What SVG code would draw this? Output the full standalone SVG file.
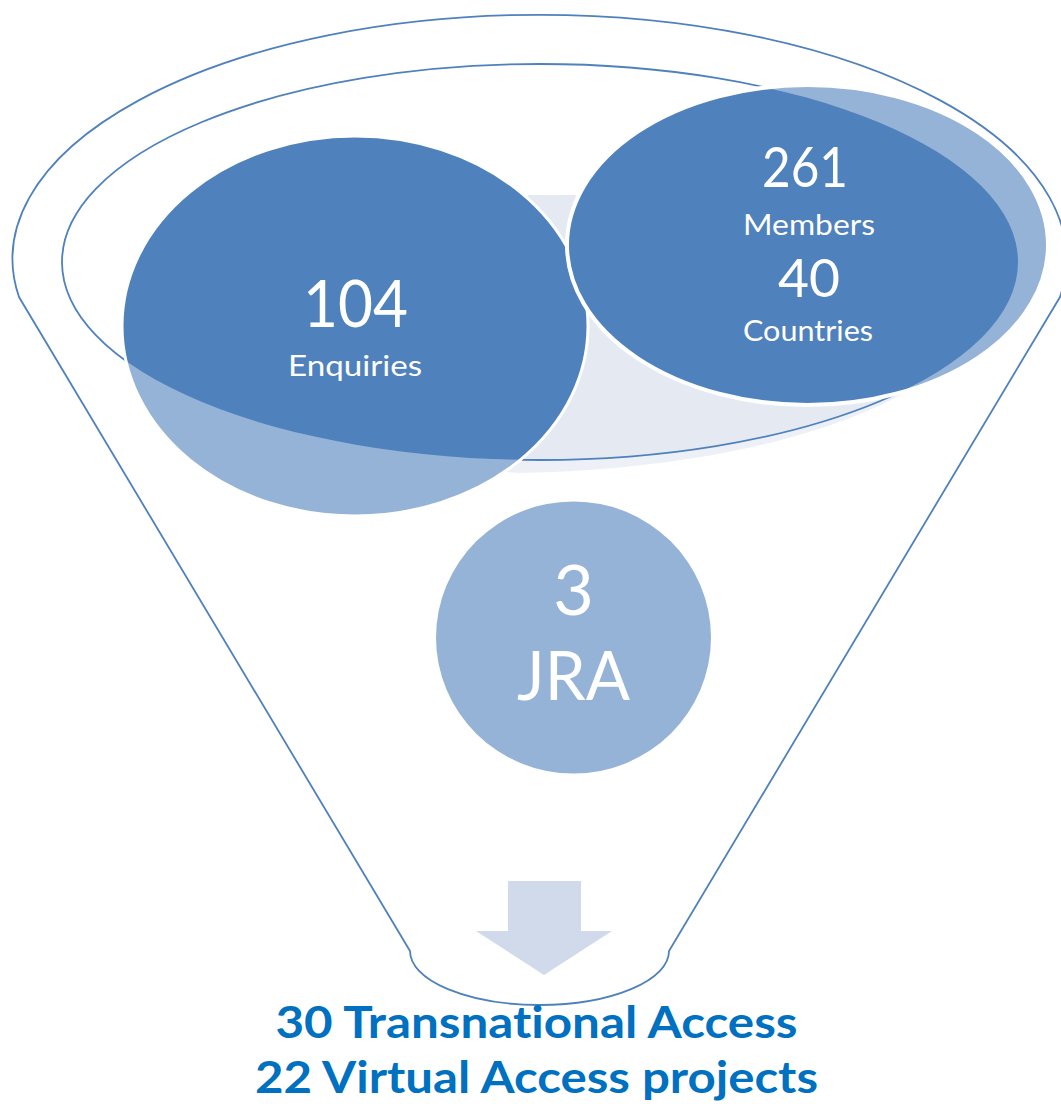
<svg xmlns="http://www.w3.org/2000/svg" width="1061" height="1104" viewBox="0 0 1061 1104">
<style>
.dark{fill:#4F81BD}
.light{fill:#95B3D7}
.line{fill:none;stroke:#4F81BD;stroke-width:1.8}
.wt{fill:none;stroke:#FFFFFF}
.t{font-family:Lato,"Liberation Sans",sans-serif;fill:#FFFFFF;font-weight:400;text-anchor:middle;font-variant-ligatures:none;font-feature-settings:"liga" 0}
.b{font-family:Lato,"Liberation Sans",sans-serif;fill:#0070C0;font-weight:bold;text-anchor:middle;font-variant-ligatures:none;font-feature-settings:"liga" 0}
</style>
<defs>
<clipPath id="inner"><ellipse cx="540" cy="262" rx="478" ry="198"/></clipPath>
</defs>
<rect width="1061" height="1104" fill="#FFFFFF"/>
<g id="backdrop">
<path d="M528,195 L575,195 L700,380 L904,393 C820,440 680,470 520,473 L505,472 L480,400 Z" fill="#EDF1F7"/>
<path d="M528,195 L575,195 L700,380 L904,393 C820,440 680,470 520,473 L505,472 L480,400 Z" fill="#E4E9F2" clip-path="url(#inner)"/>
</g>
<g id="connectors">
<ellipse cx="540" cy="262" rx="478" ry="198" class="line"/>
</g>
<g id="node-enquiries">
<ellipse cx="355" cy="326" rx="233" ry="190" class="light"/>
<ellipse cx="355" cy="326" rx="233" ry="190" class="dark" clip-path="url(#inner)"/>
<ellipse cx="355" cy="326" rx="233" ry="190" class="wt" stroke-width="3"/>
<text class="t" x="355.5" y="327" font-size="66" textLength="105" lengthAdjust="spacingAndGlyphs">104</text>
<text class="t" x="355" y="376" font-size="28" textLength="134" lengthAdjust="spacingAndGlyphs">Enquiries</text>
</g>
<g id="node-members">
<ellipse cx="807.5" cy="245" rx="240.5" ry="160" class="light"/>
<ellipse cx="807.5" cy="245" rx="240.5" ry="160" class="dark" clip-path="url(#inner)"/>
<ellipse cx="807.5" cy="245" rx="240.5" ry="160" class="wt" stroke-width="4"/>
<text class="t" x="805" y="187" font-size="56" textLength="86" lengthAdjust="spacingAndGlyphs">261</text>
<text class="t" x="809" y="235" font-size="28" textLength="132" lengthAdjust="spacingAndGlyphs">Members</text>
<text class="t" x="809" y="297" font-size="53" textLength="62" lengthAdjust="spacingAndGlyphs">40</text>
<text class="t" x="808" y="341" font-size="28" textLength="130" lengthAdjust="spacingAndGlyphs">Countries</text>
</g>
<g id="funnel">
<path class="line" d="M410,951 L19,297 A527 244 0 1 1 1060,297 L669,951 A129.5 54 0 0 1 410,951 Z"/>
</g>
<g id="node-jra">
<ellipse cx="573.5" cy="637.5" rx="137.5" ry="136" class="light"/>
<text class="t" x="573.5" y="615" font-size="70">3</text>
<text class="t" x="573.5" y="700" font-size="67" textLength="113" lengthAdjust="spacingAndGlyphs">JRA</text>
</g>
<g id="arrow">
<path d="M508,881 L581,881 L581,931 L612,931 L544,975 L476,931 L508,931 Z" fill="#D0DAEA"/>
</g>
<g id="result">
<text class="b" x="536.5" y="1038" font-size="43" textLength="522" lengthAdjust="spacingAndGlyphs">30 Transnational Access</text>
<text class="b" x="536.5" y="1093" font-size="43" textLength="563" lengthAdjust="spacingAndGlyphs">22 Virtual Access projects</text>
</g>
</svg>
